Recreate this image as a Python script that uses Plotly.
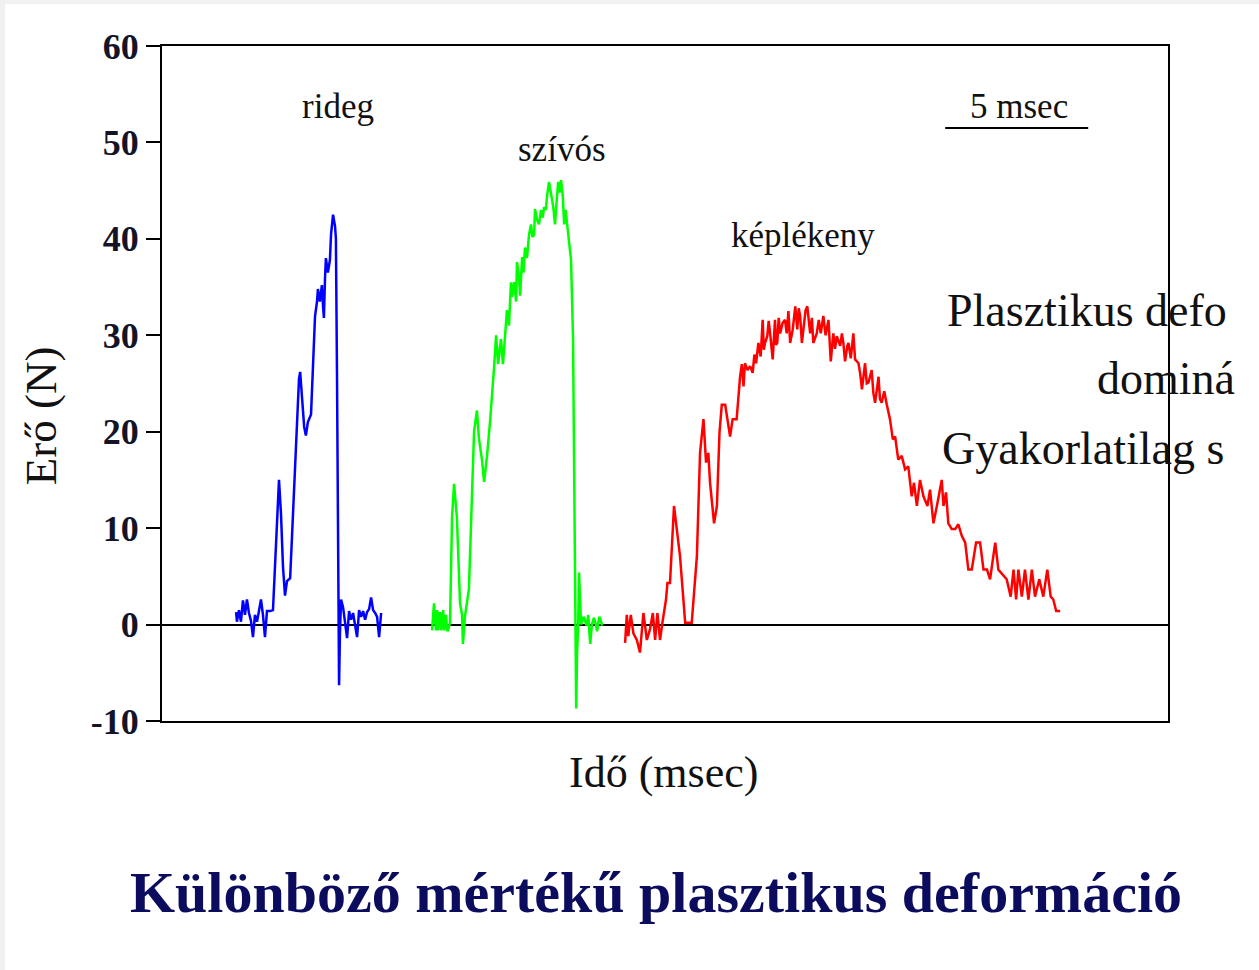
import plotly.graph_objects as go

# Impact force traces (time in msec, force in N)
rideg_t = [2.59, 2.62, 2.69, 2.76, 2.83, 2.90, 2.97, 3.04, 3.11, 3.18, 3.25, 3.32, 3.39, 3.46,
           3.53, 3.60, 3.67, 3.78, 3.88, 3.95, 4.02, 4.09, 4.16, 4.23, 4.30, 4.37, 4.48, 4.58,
           4.69, 4.79, 4.83, 4.90, 4.97, 5.03, 5.10, 5.21, 5.28, 5.35, 5.42, 5.45, 5.52, 5.59,
           5.63, 5.66, 5.70, 5.73, 5.80, 5.87, 5.91, 5.98, 6.05, 6.08, 6.12, 6.15, 6.19, 6.22,
           6.26, 6.33, 6.40, 6.47, 6.54, 6.61, 6.68, 6.75, 6.82, 6.89, 6.96, 7.03, 7.10, 7.17,
           7.24, 7.31, 7.38, 7.45, 7.52, 7.59, 7.66]
rideg_f = [1.3, 0.3, 1.5, 0.3, 2.5, 1.0, 2.6, 1.2, 0.4, -1.3, 1.0, 0.3, 1.4, 2.6,
           1.0, -1.3, 1.4, 1.4, 1.5, 6.0, 10.0, 15.0, 11.5, 6.0, 3.0, 4.5, 4.8, 12.0,
           19.0, 25.5, 26.2, 23.0, 20.5, 19.6, 21.0, 21.8, 27.0, 32.0, 33.5, 34.8, 33.5, 35.2,
           33.0, 31.8, 36.0, 38.0, 36.5, 37.8, 40.5, 42.5, 41.3, 40.0, 25.0, 5.0, -6.3, -1.0,
           2.6, 1.8, 0.0, -1.4, 1.4, 0.5, 1.2, 0.0, -1.3, 1.5, 0.8, 1.4, 0.5, 1.3,
           1.6, 2.8, 1.5, 1.2, 0.8, -1.3, 1.2]

szivos_t = [9.44, 9.48, 9.51, 9.55, 9.58, 9.62, 9.65, 9.69, 9.72, 9.76, 9.79, 9.83, 9.86, 9.90,
            9.93, 9.97, 10.00, 10.07, 10.14, 10.21, 10.31, 10.42, 10.49, 10.52, 10.59, 10.73,
            10.84, 10.91, 11.01, 11.08, 11.19, 11.26, 11.36, 11.47, 11.61, 11.68, 11.75, 11.85,
            11.92, 12.06, 12.13, 12.17, 12.20, 12.24, 12.31, 12.38, 12.41, 12.48, 12.52, 12.59,
            12.64, 12.69, 12.76, 12.83, 12.90, 12.95, 13.01, 13.04, 13.11, 13.18, 13.25, 13.31,
            13.36, 13.42, 13.46, 13.53, 13.58, 13.64, 13.69, 13.74, 13.80, 13.85, 13.90, 13.95,
            14.01, 14.06, 14.11, 14.16, 14.23, 14.30, 14.37, 14.41, 14.44, 14.48, 14.51, 14.55,
            14.58, 14.62, 14.65, 14.72, 14.76, 14.83, 14.86, 14.90, 14.97, 15.03, 15.10, 15.17,
            15.21, 15.28, 15.31, 15.38, 15.42]
szivos_f = [-0.6, 1.0, 2.2, 0.3, -0.6, 1.5, -0.6, 1.0, 1.3, -0.6, 0.8, 1.5, -0.6, 0.5,
            1.0, -0.6, -0.6, 0.2, 11.1, 14.6, 11.1, 2.2, 1.0, -2.0, 0.8, 3.7,
            12.6, 20.0, 22.2, 19.3, 17.0, 14.8, 17.4, 21.1, 26.7, 30.0, 27.0, 29.6,
            27.0, 32.6, 31.0, 33.0, 35.5, 34.0, 35.5, 33.5, 37.6, 36.0, 34.1, 38.1,
            36.5, 39.1, 38.0, 40.4, 41.5, 40.2, 40.4, 43.1, 42.0, 41.5, 43.0, 42.2,
            43.3, 43.0, 44.4, 45.9, 44.8, 44.0, 43.0, 41.5, 44.0, 45.9, 44.8, 46.1,
            44.5, 41.5, 43.0, 41.5, 40.0, 37.8, 29.6, 13.0, 0.0, -8.7, -3.0, 0.0,
            5.4, 1.0, 0.0, 0.7, 0.7, 0.0, 0.0, 1.0, -2.0, 0.0, 0.7, 0.0,
            -0.7, 0.7, 0.7, 0.0, 0.0]

keplekeny_t = [16.19, 16.25, 16.30, 16.39, 16.48, 16.60, 16.71, 16.83, 16.95, 17.06, 17.16, 17.24,
               17.32, 17.41, 17.51, 17.62, 17.67, 17.76, 17.90, 18.00, 18.11, 18.29, 18.52, 18.70,
               18.81, 18.93, 19.02, 19.10, 19.16, 19.30, 19.40, 19.49, 19.57, 19.69, 19.77, 19.86,
               19.95, 20.09, 20.21, 20.27, 20.33, 20.38, 20.47, 20.56, 20.65, 20.71, 20.77, 20.85,
               20.93, 21.00, 21.04, 21.08, 21.16, 21.21, 21.26, 21.35, 21.43, 21.47, 21.51, 21.56,
               21.61, 21.70, 21.78, 21.84, 21.90, 21.96, 22.05, 22.10, 22.14, 22.21, 22.26, 22.31,
               22.37, 22.45, 22.50, 22.56, 22.66, 22.72, 22.77, 22.89, 22.96, 23.03, 23.12, 23.20,
               23.30, 23.38, 23.47, 23.53, 23.59, 23.71, 23.77, 23.82, 23.88, 23.96, 24.00, 24.08,
               24.17, 24.23, 24.35, 24.41, 24.47, 24.58, 24.64, 24.70, 24.81, 24.87, 24.93, 25.05,
               25.10, 25.16, 25.25, 25.34, 25.45, 25.55, 25.63, 25.74, 25.86, 25.98, 26.09, 26.21,
               26.29, 26.39, 26.50, 26.62, 26.76, 26.85, 26.97, 27.09, 27.26, 27.32, 27.41, 27.49,
               27.61, 27.73, 27.84, 27.96, 28.08, 28.19, 28.31, 28.46, 28.60, 28.72, 28.84, 28.95,
               29.13, 29.24, 29.42, 29.53, 29.67, 29.77, 29.86, 29.94, 30.06, 30.17, 30.29, 30.41,
               30.52, 30.67, 30.81, 30.95, 31.07, 31.16, 31.26, 31.40]
keplekeny_f = [-1.9, 1.0, -1.2, 1.0, -0.9, -1.6, -2.9, 1.2, -1.6, -0.5, 1.2, -1.6,
               1.2, -1.6, 0.5, 2.6, 4.3, 4.3, 12.3, 9.9, 7.1, 0.2, 0.2, 7.1,
               17.8, 21.3, 16.8, 17.8, 14.7, 10.5, 12.3, 19.9, 22.8, 22.8, 21.3, 19.5,
               21.3, 21.3, 25.7, 27.0, 24.7, 27.1, 26.4, 26.8, 26.1, 28.0, 27.1, 29.2,
               27.8, 31.6, 28.5, 29.2, 29.9, 31.5, 30.2, 27.5, 31.6, 29.0, 29.2, 31.8,
               30.2, 31.3, 31.6, 30.2, 32.5, 29.2, 30.6, 32.2, 33.0, 30.6, 32.8, 32.0,
               29.2, 31.3, 32.6, 33.0, 30.2, 31.8, 29.2, 30.2, 31.6, 30.2, 32.0, 30.0,
               31.6, 27.3, 30.2, 28.6, 29.9, 28.9, 30.2, 29.2, 27.3, 28.9, 29.2, 27.6,
               30.2, 27.5, 27.1, 26.0, 24.4, 27.1, 25.0, 25.1, 26.4, 24.0, 23.0, 25.7,
               23.4, 23.0, 24.2, 22.8, 21.3, 19.2, 19.5, 17.1, 17.5, 16.1, 16.4, 13.3,
               14.7, 12.3, 15.0, 13.3, 12.3, 14.0, 10.5, 12.3, 15.0, 12.3, 13.7, 10.5,
               9.9, 9.9, 10.4, 9.2, 8.5, 5.7, 5.7, 8.5, 8.5, 5.7, 5.7, 4.7,
               8.5, 5.7, 5.0, 4.7, 2.9, 5.7, 2.6, 5.7, 2.9, 5.7, 2.6, 5.7,
               2.9, 4.7, 2.9, 5.7, 2.9, 2.6, 1.4, 1.4]

y_ticks = [-10, 0, 10, 20, 30, 40, 50, 60]
y_tick_text = ["-10", "0", "10", "20", "30", "40", "50", "60"]
SCALE_BAR_MS = 5
SCALE_BAR_START = 27.38

SERIF = "Liberation Serif, Times New Roman, serif"

fig = go.Figure()
for t, f, col in [(rideg_t, rideg_f, "#0000ff"),
                  (szivos_t, szivos_f, "#00ff00"),
                  (keplekeny_t, keplekeny_f, "#ff0000")]:
    fig.add_trace(go.Scatter(x=t, y=f, mode="lines",
                             line=dict(color=col, width=2.5), showlegend=False,
                             hoverinfo="skip"))

fig.update_layout(
    width=1259, height=970,
    margin=dict(l=162, r=91, t=46, b=249),
    paper_bgcolor="#f1f1f1",
    plot_bgcolor="white",
    font=dict(family=SERIF, color="#111111"),
    xaxis=dict(range=[0, 35.17], showticklabels=False, ticks="", showgrid=False,
               zeroline=False, showline=True, mirror=True, linecolor="black", linewidth=2),
    yaxis=dict(range=[-10, 60], tickvals=y_ticks, ticktext=y_tick_text,
               ticks="outside", ticklen=14, tickwidth=2, tickcolor="black", showgrid=False,
               tickfont=dict(family=SERIF, size=36, color="#141428", weight="bold"),
               zeroline=True, zerolinecolor="black", zerolinewidth=2,
               showline=True, mirror=True, linecolor="black", linewidth=2),
)

# white slide area behind the chart
fig.add_shape(type="rect", xref="paper", yref="paper", x0=-0.156, x1=1.3, y0=-0.5, y1=1.062,
              fillcolor="white", line=dict(width=0), layer="below")

# scale bar
fig.add_shape(type="line", xref="x", yref="y", x0=SCALE_BAR_START,
              x1=SCALE_BAR_START + SCALE_BAR_MS, y0=51.5, y1=51.5,
              line=dict(color="black", width=2))

labels = [("rideg", 6.15, 53.7), ("szívós", 13.99, 49.3),
          ("képlékeny", 22.41, 40.3), ("5 msec", 29.97, 53.7)]
for txt, x, y in labels:
    fig.add_annotation(text=txt, x=x, y=y, xref="x", yref="y", showarrow=False,
                       xanchor="center", yanchor="middle",
                       font=dict(family=SERIF, size=35, color="#111111"))

# side text of the slide, running off the right edge
side = [("Plasztikus defo", 27.38, 32.6),
        ("dominá", 32.62, 25.5),
        ("Gyakorlatilag s", 27.2, 18.25)]
for txt, x, y in side:
    fig.add_annotation(text=txt, x=x, y=y, xref="x", yref="y", showarrow=False,
                       xanchor="left", yanchor="middle",
                       font=dict(family=SERIF, size=46, color="#111111"))

fig.add_annotation(text="Idő (msec)", x=0.499, y=-0.0756, xref="paper", yref="paper",
                   showarrow=False, xanchor="center", yanchor="middle",
                   font=dict(family=SERIF, size=44, color="#111111"))
fig.add_annotation(text="Erő (N)", x=-0.1203, y=0.453, xref="paper", yref="paper",
                   showarrow=False, xanchor="center", yanchor="middle", textangle=-90,
                   font=dict(family=SERIF, size=45, color="#111111"))
fig.add_annotation(text="<b>Különböző mértékű plasztikus deformáció</b>", x=0.491, y=-0.254,
                   xref="paper", yref="paper", showarrow=False,
                   xanchor="center", yanchor="middle",
                   font=dict(family=SERIF, size=58, color="#0c0c5e"))

fig.write_html("out.html")
